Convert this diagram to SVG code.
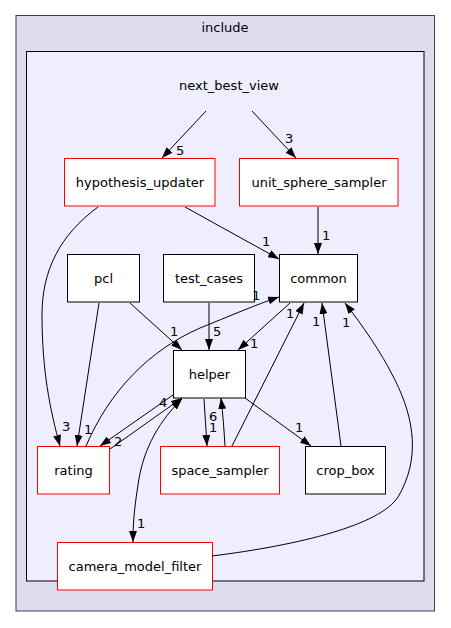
<svg xmlns="http://www.w3.org/2000/svg" width="451" height="628" viewBox="0 0 451 628">
<defs>
<marker id="ah" viewBox="0 0 11 8" refX="11" refY="4" markerWidth="11" markerHeight="8" markerUnits="userSpaceOnUse" orient="auto-start-reverse">
<path d="M0,0 L11,4 L0,8 z" fill="#000"/>
</marker>
<style>
text{font-family:"DejaVu Sans",sans-serif;font-size:13px;fill:#000}
.lbl{font-size:13px}
.n rect{fill:#fff;stroke-width:1}
.red rect{stroke:#ff0000}
.blk rect{stroke:#000}
.e path{fill:none;stroke:#000;stroke-width:1;marker-end:url(#ah)}
</style>
</defs>
<rect x="0" y="0" width="451" height="628" fill="#fff"/>
<g id="cluster_include">
<rect x="16" y="15.5" width="418.5" height="595.5" fill="#ddddee" stroke="#404040" stroke-width="1"/>
<text x="225" y="32" text-anchor="middle">include</text>
</g>
<g id="cluster_next_best_view">
<rect x="26.5" y="51.5" width="397.5" height="529.5" fill="#eeeeff" stroke="#000" stroke-width="1"/>
<text x="229" y="90" text-anchor="middle">next_best_view</text>
</g>
<g id="hypothesis_updater" class="n red"><rect x="64.5" y="158.5" width="150.5" height="47.5"/><text x="140" y="187" text-anchor="middle">hypothesis_updater</text></g>
<g id="unit_sphere_sampler" class="n red"><rect x="239.5" y="158.5" width="158.5" height="47.5"/><text x="319" y="187" text-anchor="middle">unit_sphere_sampler</text></g>
<g id="pcl" class="n blk"><rect x="67.5" y="254.5" width="72" height="47.5"/><text x="103.5" y="283" text-anchor="middle">pcl</text></g>
<g id="test_cases" class="n blk"><rect x="163.5" y="254.5" width="91" height="47.5"/><text x="209" y="283" text-anchor="middle">test_cases</text></g>
<g id="common" class="n blk"><rect x="279.5" y="254.5" width="78" height="47.5"/><text x="318.5" y="283" text-anchor="middle">common</text></g>
<g id="helper" class="n blk"><rect x="173.5" y="350.5" width="72" height="47.5"/><text x="209.5" y="379" text-anchor="middle">helper</text></g>
<g id="rating" class="n red"><rect x="37.5" y="446.5" width="72" height="47.5"/><text x="73.5" y="475" text-anchor="middle">rating</text></g>
<g id="space_sampler" class="n red"><rect x="160.5" y="446.5" width="119" height="47.5"/><text x="220" y="475" text-anchor="middle">space_sampler</text></g>
<g id="crop_box" class="n blk"><rect x="305.5" y="446.5" width="80" height="47.5"/><text x="345.5" y="475" text-anchor="middle">crop_box</text></g>
<g id="camera_model_filter" class="n red"><rect x="57.5" y="542.5" width="155" height="47.5"/><text x="135" y="571" text-anchor="middle">camera_model_filter</text></g>
<g id="connectors" class="e">
<path d="M206,111 L162,158"/><text x="176" y="155" class="lbl">5</text>
<path d="M252,111 L296,158"/><text x="285" y="143" class="lbl">3</text>
<path d="M185,207 L279,259"/><text x="262" y="246" class="lbl">1</text>
<path d="M318,207 L318,254"/><text x="322" y="240" class="lbl">1</text>
<path d="M98,207 C60,235 42,270 42,315 C42,370 50,410 60,446"/><text x="62" y="431" class="lbl">3</text>
<path d="M99,303 L77,446"/><text x="84" y="434" class="lbl">1</text>
<path d="M130,303 L182,350"/><text x="170" y="336" class="lbl">1</text>
<path d="M209,303 L209,350"/><text x="213" y="336" class="lbl">5</text>
<path d="M290,303 L238,350"/><text x="250" y="348" class="lbl">1</text>
<path d="M86,446 C110,390 150,350 200,328 C230,316 255,305 279,297"/><text x="252" y="300" class="lbl">1</text>
<path d="M232,446 L304,303"/><text x="286" y="318" class="lbl">1</text>
<path d="M341,446 L322,303"/><text x="312" y="326" class="lbl">1</text>
<path d="M212,556 C300,545 380,525 398,497 C420,460 415,420 395,380 C380,350 362,325 345,303"/><text x="342" y="327" class="lbl">1</text>
<path d="M173,395 L100,446"/><text x="114" y="446" class="lbl">2</text>
<path d="M110,449 L182,398"/><text x="159" y="407" class="lbl">4</text>
<path d="M182,399 C155,425 142,455 138,485 C134,510 133,525 133,542" marker-start="url(#ah)"/><text x="137" y="528" class="lbl">1</text>
<path d="M204,399 C205,415 206,430 207,446"/><text x="209" y="432" class="lbl">1</text>
<path d="M225,446 C224,430 223,415 221,398"/><text x="209" y="421" class="lbl">6</text>
<path d="M245,398 L311,446"/><text x="295" y="432" class="lbl">1</text>
</g>
</svg>
